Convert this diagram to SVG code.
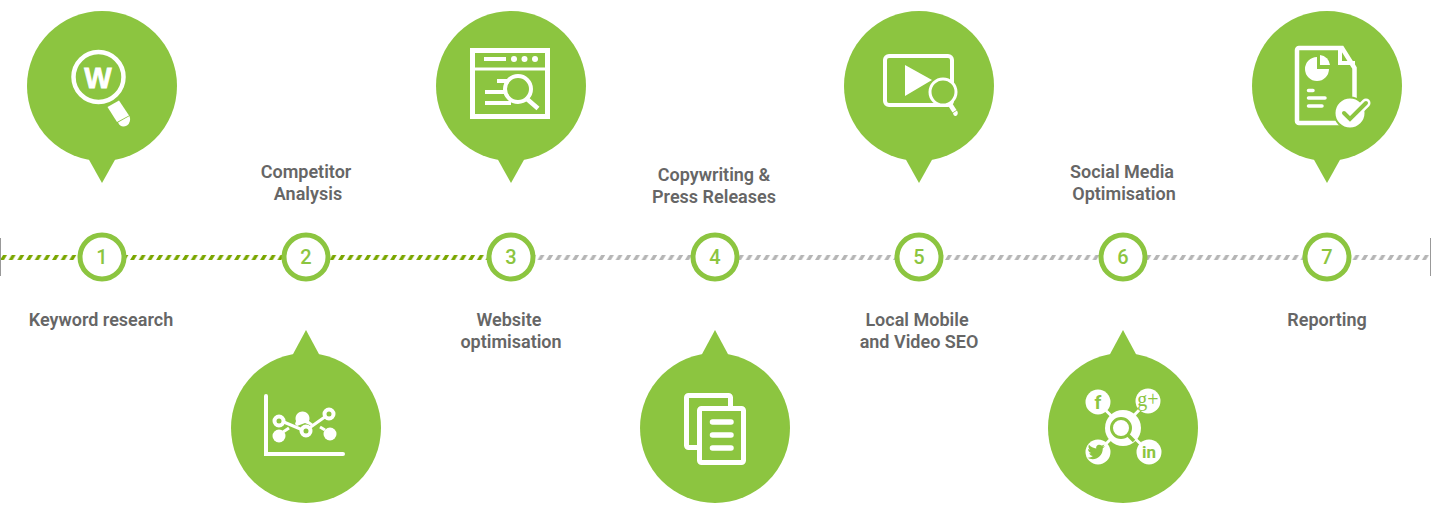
<svg xmlns="http://www.w3.org/2000/svg" width="1431" height="512" viewBox="0 0 1431 512">
<style>
.bubble{fill:#8cc540}
.ring{fill:#fff;stroke:#8cc540;stroke-width:5}
.num{font:500 20px Roboto,"Liberation Sans",sans-serif;fill:#8cc540;text-anchor:middle}
.label{font:600 18px Roboto,"Liberation Sans",sans-serif;fill:#666;text-anchor:middle}
.w{fill:#fff}
.ol{fill:none;stroke:#fff;stroke-linecap:butt}
.rl{fill:none;stroke:#fff;stroke-linecap:round}
.gt{fill:#8cc540;text-anchor:middle;font-family:Roboto,"Liberation Sans",sans-serif;font-weight:700}
</style>
<defs>
<pattern id="done" patternUnits="userSpaceOnUse" x="0" y="255" width="8.67" height="5">
<polygon points="0,5 3,0 7,0 4,5" fill="#7aa600"/>
<polygon points="8.670,5 11.670,0 15.670,0 12.670,5" fill="#7aa600"/>
</pattern>
<pattern id="todo" patternUnits="userSpaceOnUse" x="0" y="255" width="8.67" height="5">
<polygon points="0,5 3,0 7,0 4,5" fill="#b5b5b5"/>
<polygon points="8.670,5 11.670,0 15.670,0 12.670,5" fill="#b5b5b5"/>
</pattern>
<g id="pin-down"><circle r="75" class="bubble"/><polygon points="-14,72 14,72 0,97" class="bubble"/></g>
<g id="pin-up"><circle r="75" class="bubble"/><polygon points="-14,-72 14,-72 0,-98" class="bubble"/></g>
</defs>

<g id="connectors">
<rect x="0" y="255" width="511" height="5" fill="url(#done)"/>
<rect x="511" y="255" width="920" height="5" fill="url(#todo)"/>
<rect x="0" y="238" width="1" height="38" fill="#999"/>
<rect x="1430" y="238" width="1" height="38" fill="#999"/>
</g>

<g id="step-1">
<use href="#pin-down" x="102" y="86"/>
<circle cx="98.5" cy="77" r="25" class="ol" stroke-width="4.5"/>
<text x="98" y="88" class="gt" style="fill:#fff;stroke:#fff;stroke-width:.8;font-size:29px;font-family:'Liberation Sans',sans-serif">W</text>
<polygon points="107.500,107 119,100.500 129,115.500 117,122" class="w"/>
<path d="M118,122.500 L129.500,116 Q131.500,122 127,125.500 Q121,128.500 118,122.500Z" class="w"/>
<circle cx="102" cy="257" r="22" class="ring"/><text x="102" y="264" class="num">1</text>
<text x="101" y="326" class="label">Keyword research</text>
</g>

<g id="step-2">
<use href="#pin-up" x="306" y="428"/>
<path d="M266,396V454H343" class="rl" stroke-width="4"/>
<path d="M279,420L305,431L329,414" class="ol" stroke-width="3"/>
<circle cx="279" cy="421" r="4.500" fill="#8cc540" stroke="#fff" stroke-width="4"/>
<circle cx="329" cy="414" r="4.500" fill="#8cc540" stroke="#fff" stroke-width="4"/>
<circle cx="306" cy="431" r="4.500" fill="#8cc540" stroke="#fff" stroke-width="4"/>
<path d="M296,421a7,7 0 1 1 13,0l4,3 -1,2 -7,-3 -8,3 -2,-2z" class="w"/>
<circle cx="279" cy="436" r="6.500" class="w"/><path d="M283,432L289,428" class="ol" stroke-width="3"/>
<circle cx="330" cy="434" r="6.500" class="w"/><path d="M325,430L320,427" class="ol" stroke-width="3"/>
<circle cx="306" cy="257" r="22" class="ring"/><text x="306" y="264" class="num">2</text>
<text x="306" y="178" class="label">Competitor</text>
<text x="308" y="200" class="label">Analysis</text>
</g>

<g id="step-3">
<use href="#pin-down" x="511" y="86"/>
<rect x="472.500" y="50.500" width="75" height="66" class="ol" stroke-width="5"/>
<path d="M472,69H548" class="ol" stroke-width="3"/>
<rect x="484" y="57" width="22" height="4" class="w"/>
<circle cx="514" cy="59" r="3" class="w"/><circle cx="524.500" cy="59" r="3" class="w"/><circle cx="535" cy="59" r="3" class="w"/>
<circle cx="518" cy="89" r="13" class="ol" stroke-width="4"/>
<path d="M527,99L538,108.500" class="ol" stroke-width="4.500"/>
<path d="M497,81H508M485,92H505M485,103H511" class="ol" stroke-width="4"/>
<circle cx="511" cy="257" r="22" class="ring"/><text x="511" y="264" class="num">3</text>
<text x="509" y="326" class="label">Website</text>
<text x="511" y="348" class="label">optimisation</text>
</g>

<g id="step-4">
<use href="#pin-up" x="715" y="428"/>
<rect x="686.500" y="395.500" width="44" height="52" rx="2" class="ol" stroke-width="5"/>
<rect x="699.500" y="408.500" width="44" height="54" rx="2" fill="#8cc540" stroke="#fff" stroke-width="5"/>
<path d="M712.500,422H731M712.500,435H731M712.500,448H731" class="rl" stroke-width="5.500"/>
<circle cx="715" cy="257" r="22" class="ring"/><text x="715" y="264" class="num">4</text>
<text x="714" y="181" class="label">Copywriting &amp;</text>
<text x="714" y="203" class="label">Press Releases</text>
</g>

<g id="step-5">
<use href="#pin-down" x="919" y="86"/>
<rect x="885" y="56" width="67" height="49" rx="4" class="ol" stroke-width="4"/>
<polygon points="905,65 905,96 932,80" class="w"/>
<circle cx="943" cy="92" r="13" fill="#8cc540" stroke="#fff" stroke-width="3"/>
<polygon points="948,105.500 952,103 956.500,110 952.500,112.500" class="w"/>
<path d="M953,113L957,110.500Q959,114 956,116Q953.500,116.500 953,113Z" class="w"/>
<circle cx="919" cy="257" r="22" class="ring"/><text x="919" y="264" class="num">5</text>
<text x="917" y="326" class="label">Local Mobile</text>
<text x="919" y="348" class="label">and Video SEO</text>
</g>

<g id="step-6">
<use href="#pin-up" x="1123" y="428"/>
<path d="M1098,403L1149,452M1148,401L1098,452" class="ol" stroke-width="3"/>
<circle cx="1123" cy="428" r="18" class="w"/>
<circle cx="1121" cy="428" r="9.500" fill="none" stroke="#8cc540" stroke-width="3"/>
<path d="M1128,435L1134,441" stroke="#8cc540" stroke-width="3.500" fill="none"/>
<circle cx="1098" cy="402" r="12.500" class="w"/><circle cx="1148" cy="401" r="12.500" class="w"/>
<circle cx="1098" cy="452" r="12.500" class="w"/><circle cx="1149" cy="452" r="12.500" class="w"/>
<text x="1098" y="409" class="gt" style="font-size:19px">f</text>
<text x="1148" y="406" class="gt" style="font-size:20px;font-family:'Liberation Serif',serif;font-weight:400">g+</text>
<path d="M1105,446c-1,.5-2,.7-2.500,.7 1,-.5 1.700,-1.300 2,-2.200 -1,.5 -2,1 -3,1.100 -2,-2.200 -6,-.3 -5.200,2.800 -3,-.2 -5.500,-1.500 -7.300,-3.700 -1,1.700 -.5,3.800 1.200,5 -.8,0 -1.500,-.2 -2.200,-.6 0,1.900 1.300,3.500 3.200,4 -.7,.2 -1.400,.2 -2,.1 .5,1.600 2,2.700 3.700,2.800 -1.700,1.300 -3.700,1.800 -5.600,1.600 6,3.900 15.500,.5 15.500,-9.300 .8,-.6 1.700,-1.400 2.200,-2.300z" fill="#8cc540"/>
<text x="1149" y="458" class="gt" style="font-size:17px">in</text>
<circle cx="1123" cy="257" r="22" class="ring"/><text x="1123" y="264" class="num">6</text>
<text x="1122" y="178" class="label">Social Media</text>
<text x="1124" y="200" class="label">Optimisation</text>
</g>

<g id="step-7">
<use href="#pin-down" x="1327" y="86"/>
<path d="M1354.500,100V68L1342,48H1299a2,2 0 0 0 -2,2V121a2,2 0 0 0 2,2H1340" class="ol" stroke-width="4.500"/>
<path d="M1340,47V63H1355" class="ol" stroke-width="4"/>
<path d="M1317,57a12,12 0 1 0 12,12H1317z" class="w"/>
<path d="M1320,55a11,11 0 0 1 10,10H1320z" class="w"/>
<path d="M1308.500,90.500H1313M1308.500,98H1325M1308.500,106H1322" class="rl" stroke-width="3.500"/>
<circle cx="1350" cy="113" r="15.500" class="w" stroke="#8cc540" stroke-width="2"/>
<path d="M1344,113L1350,119L1366,103" fill="none" stroke="#fff" stroke-width="9" stroke-linecap="round"/>
<path d="M1344,113L1350,119L1366,103" fill="none" stroke="#8cc540" stroke-width="4" stroke-linecap="round"/>
<circle cx="1327" cy="257" r="22" class="ring"/><text x="1327" y="264" class="num">7</text>
<text x="1327" y="326" class="label">Reporting</text>
</g>
</svg>
